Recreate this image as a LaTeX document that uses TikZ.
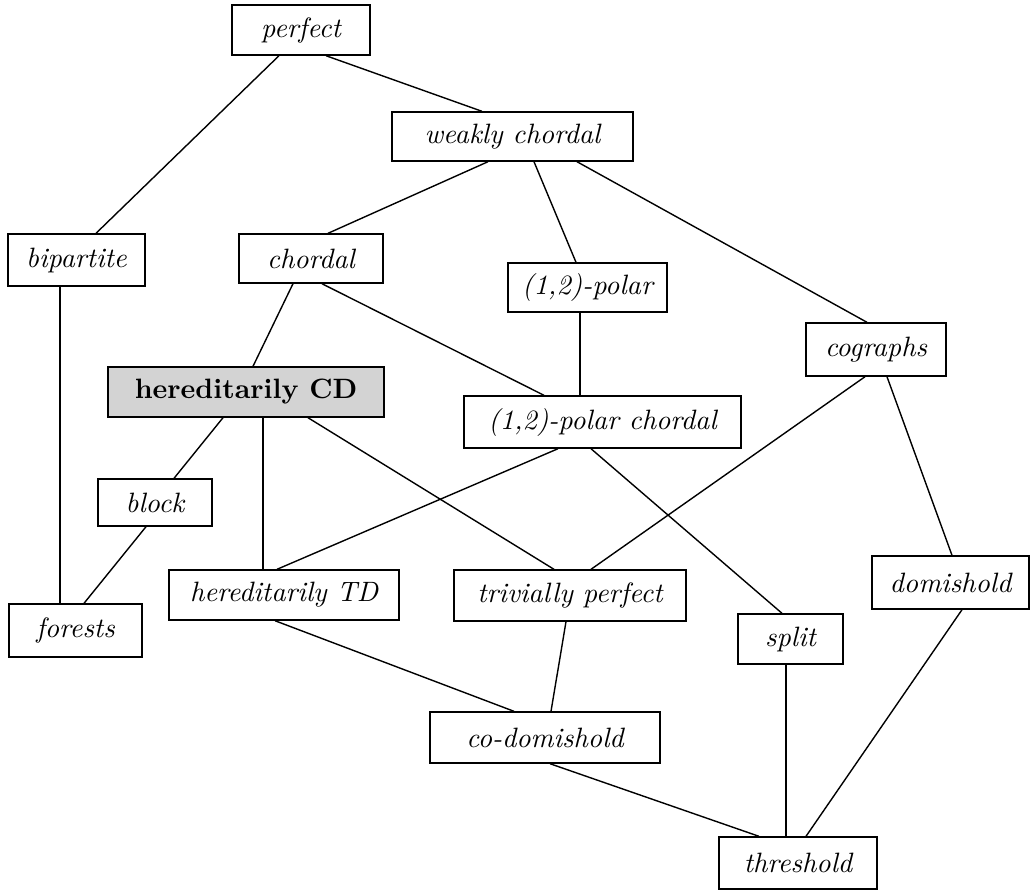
\documentclass[tikz,border=0pt]{standalone}
\usetikzlibrary{calc}
\definecolor{hcdgray}{RGB}{211,211,211}
\newcommand\lnk[4]{\draw[conn] ($(#1.south)+(#2,0)$) -- ($(#3.north)+(#4,0)$);}
\begin{document}
\begin{tikzpicture}[x=0.35714pt,y=-0.35714pt,
  box/.style={draw, line width=0.5pt, inner sep=0pt, font=\itshape, fill=white},
  hbox/.style={box, fill=hcdgray, font=\bfseries},
  conn/.style={line width=0.5pt}]
\useasboundingbox (0,0) rectangle (1030,892);
% nodes
\node[box, minimum width=49.29pt, minimum height=17.86pt] (perfect) at (301,30) {perfect};
\node[box, minimum width=86.07pt, minimum height=17.5pt] (wc) at (512.5,136.5) {weakly chordal};
\node[box, minimum width=48.93pt, minimum height=18.57pt] (bip) at (76.5,260) {bipartite};
\node[box, minimum width=51.43pt, minimum height=17.5pt] (chordal) at (311,258.5) {chordal};
\node[box, minimum width=56.79pt, minimum height=17.5pt] (pol) at (587.5,287.5) {(1,2)-polar};
\node[box, minimum width=50pt, minimum height=18.93pt] (cog) at (876,349.5) {cographs};
\node[hbox, minimum width=98.57pt, minimum height=17.86pt] (hcd) at (246,392) {hereditarily CD};
\node[box, minimum width=98.93pt, minimum height=18.57pt] (pc) at (602.5,422) {(1,2)-polar chordal};
\node[box, minimum width=40.71pt, minimum height=16.79pt] (block) at (155,502.5) {block};
\node[box, minimum width=82.14pt, minimum height=17.86pt] (htd) at (284,595) {hereditarily TD};
\node[box, minimum width=82.86pt, minimum height=18.21pt] (tp) at (570,595.5) {trivially perfect};
\node[box, minimum width=56.07pt, minimum height=18.93pt] (dom) at (950.5,582.5) {domishold};
\node[box, minimum width=47.5pt, minimum height=18.93pt] (forests) at (75.5,630.5) {forests};
\node[box, minimum width=37.5pt, minimum height=17.86pt] (split) at (790.5,639) {split};
\node[box, minimum width=82.14pt, minimum height=18.21pt] (cod) at (545,737.5) {co-domishold};
\node[box, minimum width=56.43pt, minimum height=18.57pt] (thr) at (798,863) {threshold};
% connectors
\lnk{perfect}{-22}{bip}{19.5}
\lnk{perfect}{25}{wc}{-30.5}
\lnk{bip}{-16.5}{forests}{-15.5}
\lnk{wc}{-24.5}{chordal}{17}
\lnk{wc}{21.5}{pol}{-11.5}
\lnk{wc}{64.5}{cog}{-9}
\lnk{chordal}{-18}{hcd}{7}
\lnk{chordal}{11}{pc}{-58.5}
\lnk{pol}{-7.5}{pc}{-22.5}
\lnk{hcd}{-23}{block}{19}
\lnk{hcd}{17}{htd}{-21}
\lnk{hcd}{62}{tp}{-16}
\lnk{pc}{-44.5}{htd}{-7}
\lnk{pc}{-11.5}{split}{-8.5}
\lnk{cog}{-11}{tp}{21}
\lnk{cog}{11}{dom}{1.5}
\lnk{block}{-9}{forests}{8.5}
\lnk{htd}{-9}{cod}{-31}
\lnk{tp}{-4}{cod}{6}
\lnk{split}{-4.5}{thr}{-12}
\lnk{dom}{11.5}{thr}{8}
\lnk{cod}{5}{thr}{-39}
\end{tikzpicture}
\end{document}
